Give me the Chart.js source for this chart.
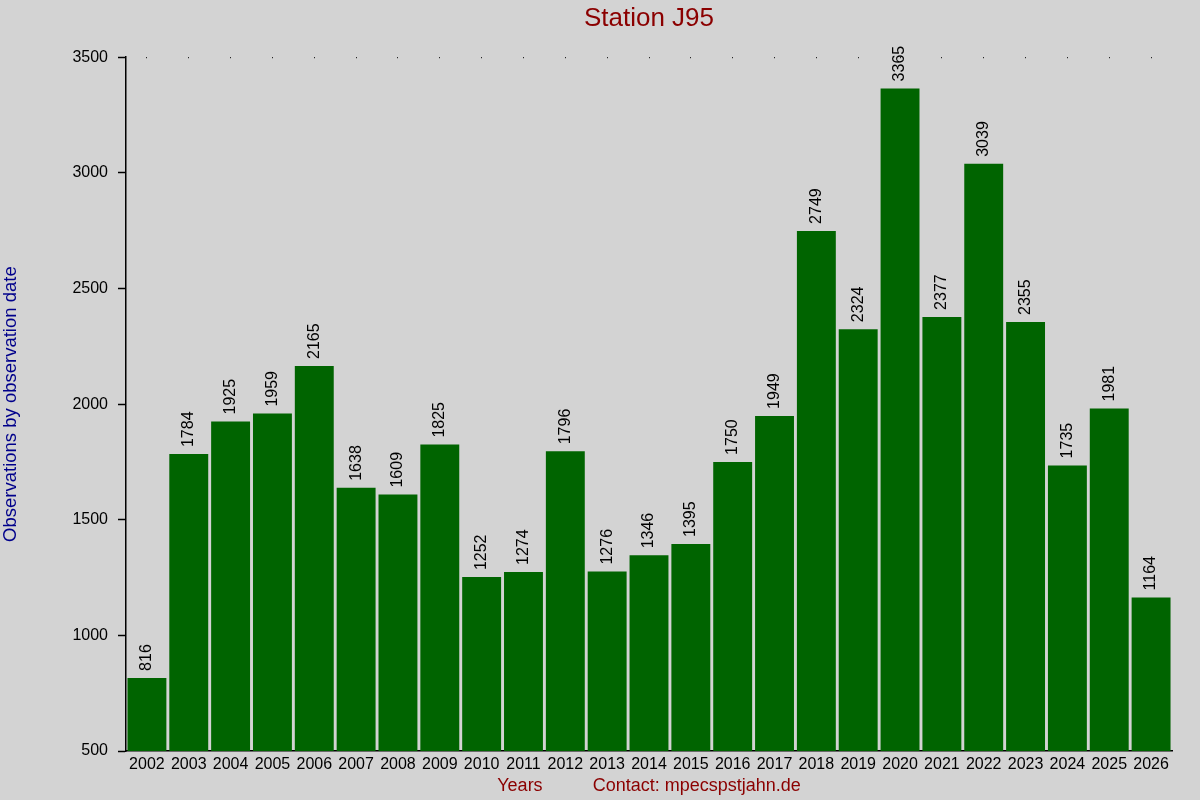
<!DOCTYPE html>
<html>
<head>
<meta charset="utf-8">
<script src="https://cdn.jsdelivr.net/npm/chart.js@4/dist/chart.umd.min.js"></script>
<style>
  html, body { margin: 0; padding: 0; background: #d3d3d3; }
  canvas { display: block; }
</style>
</head>
<body>
<canvas id="bar-chart" width="1200" height="800"></canvas>
<script>
const years = ["2002", "2003", "2004", "2005", "2006", "2007", "2008", "2009", "2010", "2011", "2012", "2013",
  "2014", "2015", "2016", "2017", "2018", "2019", "2020", "2021", "2022", "2023", "2024", "2025", "2026"];
const observations = [816, 1784, 1925, 1959, 2165, 1638, 1609, 1825, 1252, 1274, 1796, 1276,
  1346, 1395, 1750, 1949, 2749, 2324, 3365, 2377, 3039, 2355, 1735, 1981, 1164];
const yMin = 500, yMax = 3500, yStep = 500;

const FONT = "'Liberation Sans', Arial, sans-serif";

// value written vertically above each bar
const barLabels = {
  id: 'barLabels',
  afterDatasetsDraw(chart) {
    const ctx = chart.ctx;
    const meta = chart.getDatasetMeta(0);
    ctx.save();
    ctx.font = "16px " + FONT;
    ctx.fillStyle = "#000";
    ctx.textAlign = "left";
    ctx.textBaseline = "middle";
    meta.data.forEach((bar, i) => {
      ctx.save();
      ctx.translate(bar.x, bar.y - 7);
      ctx.rotate(-Math.PI / 2);
      ctx.fillText(String(observations[i]), 0, 0);
      ctx.restore();
    });
    ctx.restore();
  }
};

new Chart(document.getElementById("bar-chart"), {
  type: 'bar',
  data: {
    labels: years,
    datasets: [{
      label: "Observations",
      backgroundColor: "#006400",
      data: observations,
      categoryPercentage: 1.0,
      barPercentage: 0.93
    }]
  },
  options: {
    responsive: false,
    animation: false,
    devicePixelRatio: 1,
    layout: { padding: { top: 0, right: 28, bottom: 0, left: 0 } },
    plugins: {
      legend: { display: false },
      tooltip: { enabled: false },
      title: {
        display: true,
        fullSize: false,
        text: 'Station J95',
        color: '#8b0000',
        font: { family: FONT, size: 26, weight: 'normal' },
        padding: { top: 3, bottom: 23 }
      }
    },
    scales: {
      x: {
        afterFit(scale) { scale.height = 49; },
        grid: {
          display: true,
          offset: false,
          drawTicks: false,
          color: '#000',
          lineWidth: 1
        },
        border: { display: true, color: '#000', width: 1.5, dash: [1, 2000] },
        ticks: {
          color: '#000',
          font: { family: FONT, size: 16 },
          padding: 4,
          maxRotation: 0,
          autoSkip: false
        },
        title: {
          display: true,
          text: 'Years          Contact: mpecspstjahn.de',
          color: '#8b0000',
          font: { family: FONT, size: 18 },
          padding: { top: 0, bottom: 3 }
        }
      },
      y: {
        min: yMin,
        max: yMax,
        afterFit(scale) { scale.width = 126; },
        grid: {
          drawOnChartArea: false,
          drawTicks: true,
          tickLength: 8,
          tickColor: '#000',
          tickWidth: 1.5
        },
        border: { display: true, color: '#000', width: 1.5 },
        ticks: {
          stepSize: yStep,
          color: '#000',
          font: { family: FONT, size: 16 },
          padding: 10,
          callback: (v) => String(v)
        },
        title: {
          display: true,
          text: 'Observations by observation date',
          color: '#00008b',
          font: { family: FONT, size: 18.5 },
          padding: { top: 0, bottom: 0 }
        }
      }
    }
  },
  plugins: [barLabels]
});
</script>
</body>
</html>
